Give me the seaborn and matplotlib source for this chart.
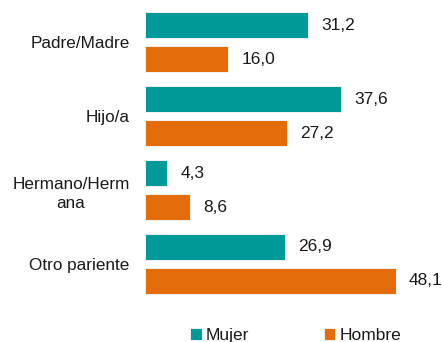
import matplotlib
matplotlib.use("Agg")
import matplotlib.pyplot as plt
import pandas as pd
import seaborn as sns

categories = ["Padre/Madre", "Hijo/a", "Hermano/Herm\nana", "Otro pariente"]
series_names = ["Mujer", "Hombre"]
mujer = [31.2, 37.6, 4.3, 26.9]
hombre = [16.0, 27.2, 8.6, 48.1]
colors = ["#009A98", "#E46C0A"]

df = pd.DataFrame({
    "categoria": categories * 2,
    "sexo": [series_names[0]] * len(categories) + [series_names[1]] * len(categories),
    "valor": mujer + hombre,
})

sns.set_theme(style="white")
plt.rcParams["font.family"] = ["Liberation Sans", "DejaVu Sans"]

fig = plt.figure(figsize=(4.43, 3.42), dpi=100)
ax = fig.add_axes([0.327, 0.12, 0.648, 0.865])

sns.barplot(
    data=df, y="categoria", x="valor", hue="sexo", order=categories,
    hue_order=series_names, palette=colors, saturation=1, orient="h",
    width=0.92, gap=0.24, edgecolor="#f2f2f2", linewidth=0.7,
    errorbar=None, legend=True, ax=ax,
)

ax.set_xlim(0, 55)
ax.set_ylim(3.5, -0.5)
for c in ax.containers:
    ax.bar_label(c, labels=[f"{v:.1f}".replace(".", ",") for v in c.datavalues],
                 padding=9.5, fontsize=12.5, color="#1a1a1a")

ax.set_xlabel("")
ax.set_ylabel("")
ax.set_xticks([])
ax.tick_params(axis="y", length=0, pad=11, labelsize=12.3, labelcolor="#1a1a1a")
for lbl in ax.get_yticklabels():
    lbl.set_multialignment("center")
    lbl.set_linespacing(1.35)
for s in ax.spines.values():
    s.set_visible(False)

handles, labels = ax.get_legend_handles_labels()
ax.get_legend().remove()
fig.legend(handles, labels, loc="center", bbox_to_anchor=(0.668, 0.02), ncol=2,
           frameon=False, fontsize=12.5, handlelength=0.65, handleheight=0.7,
           handletextpad=0.25, columnspacing=4.3, labelcolor="#1a1a1a")

fig.savefig("out.png", dpi=100)
